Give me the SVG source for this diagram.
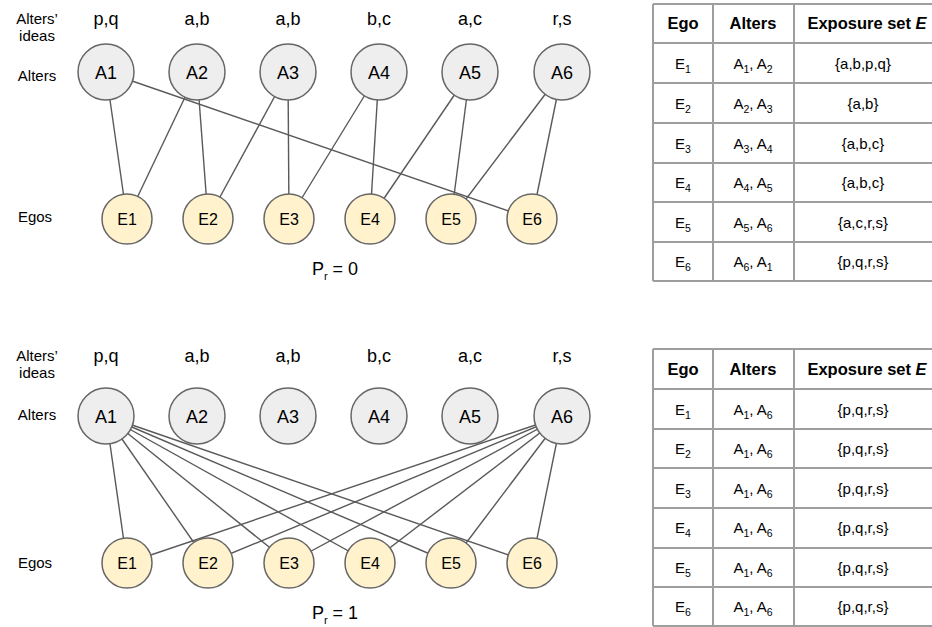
<svg xmlns="http://www.w3.org/2000/svg" width="932" height="627" viewBox="0 0 932 627">
<style>
text{font-family:"Liberation Sans",Arial,sans-serif;fill:#000}
.lbl{font-size:15px;text-anchor:middle}
.idea{font-size:18px;text-anchor:middle}
.nt{font-size:18px;text-anchor:middle}
.et{font-size:16px;text-anchor:middle}
.alt{fill:#eeeeee;stroke:#666666;stroke-width:1.5}
.ego{fill:#fff2cc;stroke:#666666;stroke-width:1.5}
.edge{stroke:#595959;stroke-width:1.4;fill:none}
.tl{stroke:#9e9e9e;stroke-width:2;fill:none}
.th{font-size:16.5px;font-weight:bold;text-anchor:middle}
.td{font-size:15px;text-anchor:middle}
.sb{font-size:10.5px}
.pr{font-size:18px;text-anchor:middle}
</style>

<!-- ===== Top diagram (Pr = 0) ===== -->
<g id="top-labels">
<text class="lbl" x="37" y="24">Alters’</text>
<text class="lbl" x="37" y="41">ideas</text>
<text class="lbl" x="37" y="81">Alters</text>
<text class="lbl" x="35" y="222">Egos</text>
<text class="idea" x="106" y="25">p,q</text>
<text class="idea" x="197" y="25">a,b</text>
<text class="idea" x="288" y="25">a,b</text>
<text class="idea" x="379" y="25">b,c</text>
<text class="idea" x="470" y="25">a,c</text>
<text class="idea" x="562" y="25">r,s</text>
<text class="pr" x="335" y="275">P<tspan dy="5" font-size="11">r</tspan><tspan dy="-5"> = 0</tspan></text>
</g>

<g id="top-connectors">
<line class="edge" x1="106" y1="72" x2="127" y2="219"/>
<line class="edge" x1="197" y1="72" x2="127" y2="219"/>
<line class="edge" x1="197" y1="72" x2="208" y2="219"/>
<line class="edge" x1="288" y1="72" x2="208" y2="219"/>
<line class="edge" x1="288" y1="72" x2="289" y2="219"/>
<line class="edge" x1="379" y1="72" x2="289" y2="219"/>
<line class="edge" x1="379" y1="72" x2="370" y2="219"/>
<line class="edge" x1="470" y1="72" x2="370" y2="219"/>
<line class="edge" x1="470" y1="72" x2="451" y2="219"/>
<line class="edge" x1="562" y1="72" x2="451" y2="219"/>
<line class="edge" x1="562" y1="72" x2="532" y2="219"/>
<line class="edge" x1="106" y1="72" x2="532" y2="219"/>
</g>

<g id="tA1"><circle class="alt" cx="106" cy="72" r="28"/><text class="nt" x="106" y="78.5">A1</text></g>
<g id="tA2"><circle class="alt" cx="197" cy="72" r="28"/><text class="nt" x="197" y="78.5">A2</text></g>
<g id="tA3"><circle class="alt" cx="288" cy="72" r="28"/><text class="nt" x="288" y="78.5">A3</text></g>
<g id="tA4"><circle class="alt" cx="379" cy="72" r="28"/><text class="nt" x="379" y="78.5">A4</text></g>
<g id="tA5"><circle class="alt" cx="470" cy="72" r="28"/><text class="nt" x="470" y="78.5">A5</text></g>
<g id="tA6"><circle class="alt" cx="562" cy="72" r="28"/><text class="nt" x="562" y="78.5">A6</text></g>
<g id="tE1"><circle class="ego" cx="127" cy="219" r="25"/><text class="et" x="127" y="225">E1</text></g>
<g id="tE2"><circle class="ego" cx="208" cy="219" r="25"/><text class="et" x="208" y="225">E2</text></g>
<g id="tE3"><circle class="ego" cx="289" cy="219" r="25"/><text class="et" x="289" y="225">E3</text></g>
<g id="tE4"><circle class="ego" cx="370" cy="219" r="25"/><text class="et" x="370" y="225">E4</text></g>
<g id="tE5"><circle class="ego" cx="451" cy="219" r="25"/><text class="et" x="451" y="225">E5</text></g>
<g id="tE6"><circle class="ego" cx="532" cy="219" r="25"/><text class="et" x="532" y="225">E6</text></g>

<!-- Top table -->
<g id="table-top">
<path class="tl" d="M653 4H933M653 43H933M653 83H933M653 123H933M653 163H933M653 202H933M653 242H933M653 281H933M653 4V281M713 4V281M794 4V281"/>
<text class="th" x="683" y="29">Ego</text>
<text class="th" x="753" y="29">Alters</text>
<text class="th" x="867" y="29">Exposure set <tspan font-style="italic">E</tspan></text>
<text class="td" x="683" y="68.5">E<tspan dy="4" class="sb">1</tspan></text>
<text class="td" x="753" y="68.5">A<tspan dy="4" class="sb">1</tspan><tspan dy="-4">, A</tspan><tspan dy="4" class="sb">2</tspan></text>
<text class="td" x="863" y="68.5">{a,b,p,q}</text>
<text class="td" x="683" y="108.5">E<tspan dy="4" class="sb">2</tspan></text>
<text class="td" x="753" y="108.5">A<tspan dy="4" class="sb">2</tspan><tspan dy="-4">, A</tspan><tspan dy="4" class="sb">3</tspan></text>
<text class="td" x="863" y="108.5">{a,b}</text>
<text class="td" x="683" y="148.5">E<tspan dy="4" class="sb">3</tspan></text>
<text class="td" x="753" y="148.5">A<tspan dy="4" class="sb">3</tspan><tspan dy="-4">, A</tspan><tspan dy="4" class="sb">4</tspan></text>
<text class="td" x="863" y="148.5">{a,b,c}</text>
<text class="td" x="683" y="188">E<tspan dy="4" class="sb">4</tspan></text>
<text class="td" x="753" y="188">A<tspan dy="4" class="sb">4</tspan><tspan dy="-4">, A</tspan><tspan dy="4" class="sb">5</tspan></text>
<text class="td" x="863" y="188">{a,b,c}</text>
<text class="td" x="683" y="227.5">E<tspan dy="4" class="sb">5</tspan></text>
<text class="td" x="753" y="227.5">A<tspan dy="4" class="sb">5</tspan><tspan dy="-4">, A</tspan><tspan dy="4" class="sb">6</tspan></text>
<text class="td" x="863" y="227.5">{a,c,r,s}</text>
<text class="td" x="683" y="267">E<tspan dy="4" class="sb">6</tspan></text>
<text class="td" x="753" y="267">A<tspan dy="4" class="sb">6</tspan><tspan dy="-4">, A</tspan><tspan dy="4" class="sb">1</tspan></text>
<text class="td" x="863" y="267">{p,q,r,s}</text>
</g>

<!-- ===== Bottom diagram (Pr = 1) ===== -->
<g id="bottom-labels">
<text class="lbl" x="37" y="361">Alters’</text>
<text class="lbl" x="37" y="378">ideas</text>
<text class="lbl" x="37" y="420">Alters</text>
<text class="lbl" x="35" y="568">Egos</text>
<text class="idea" x="106" y="362">p,q</text>
<text class="idea" x="197" y="362">a,b</text>
<text class="idea" x="288" y="362">a,b</text>
<text class="idea" x="379" y="362">b,c</text>
<text class="idea" x="470" y="362">a,c</text>
<text class="idea" x="562" y="362">r,s</text>
<text class="pr" x="335" y="619">P<tspan dy="5" font-size="11">r</tspan><tspan dy="-5"> = 1</tspan></text>
</g>

<g id="bottom-connectors">
<line class="edge" x1="106" y1="416" x2="127" y2="563"/>
<line class="edge" x1="106" y1="416" x2="208" y2="563"/>
<line class="edge" x1="106" y1="416" x2="289" y2="563"/>
<line class="edge" x1="106" y1="416" x2="370" y2="563"/>
<line class="edge" x1="106" y1="416" x2="451" y2="563"/>
<line class="edge" x1="106" y1="416" x2="532" y2="563"/>
<line class="edge" x1="562" y1="416" x2="127" y2="563"/>
<line class="edge" x1="562" y1="416" x2="208" y2="563"/>
<line class="edge" x1="562" y1="416" x2="289" y2="563"/>
<line class="edge" x1="562" y1="416" x2="370" y2="563"/>
<line class="edge" x1="562" y1="416" x2="451" y2="563"/>
<line class="edge" x1="562" y1="416" x2="532" y2="563"/>
</g>

<g id="bA1"><circle class="alt" cx="106" cy="416" r="28"/><text class="nt" x="106" y="422.5">A1</text></g>
<g id="bA2"><circle class="alt" cx="197" cy="416" r="28"/><text class="nt" x="197" y="422.5">A2</text></g>
<g id="bA3"><circle class="alt" cx="288" cy="416" r="28"/><text class="nt" x="288" y="422.5">A3</text></g>
<g id="bA4"><circle class="alt" cx="379" cy="416" r="28"/><text class="nt" x="379" y="422.5">A4</text></g>
<g id="bA5"><circle class="alt" cx="470" cy="416" r="28"/><text class="nt" x="470" y="422.5">A5</text></g>
<g id="bA6"><circle class="alt" cx="562" cy="416" r="28"/><text class="nt" x="562" y="422.5">A6</text></g>
<g id="bE1"><circle class="ego" cx="127" cy="563" r="25"/><text class="et" x="127" y="569">E1</text></g>
<g id="bE2"><circle class="ego" cx="208" cy="563" r="25"/><text class="et" x="208" y="569">E2</text></g>
<g id="bE3"><circle class="ego" cx="289" cy="563" r="25"/><text class="et" x="289" y="569">E3</text></g>
<g id="bE4"><circle class="ego" cx="370" cy="563" r="25"/><text class="et" x="370" y="569">E4</text></g>
<g id="bE5"><circle class="ego" cx="451" cy="563" r="25"/><text class="et" x="451" y="569">E5</text></g>
<g id="bE6"><circle class="ego" cx="532" cy="563" r="25"/><text class="et" x="532" y="569">E6</text></g>

<!-- Bottom table -->
<g id="table-bottom">
<path class="tl" d="M653 349H933M653 389H933M653 429H933M653 468H933M653 508H933M653 548H933M653 587H933M653 626H933M653 349V626M713 349V626M794 349V626"/>
<text class="th" x="683" y="375">Ego</text>
<text class="th" x="753" y="375">Alters</text>
<text class="th" x="867" y="375">Exposure set <tspan font-style="italic">E</tspan></text>
<text class="td" x="683" y="414.5">E<tspan dy="4" class="sb">1</tspan></text>
<text class="td" x="753" y="414.5">A<tspan dy="4" class="sb">1</tspan><tspan dy="-4">, A</tspan><tspan dy="4" class="sb">6</tspan></text>
<text class="td" x="863" y="414.5">{p,q,r,s}</text>
<text class="td" x="683" y="454">E<tspan dy="4" class="sb">2</tspan></text>
<text class="td" x="753" y="454">A<tspan dy="4" class="sb">1</tspan><tspan dy="-4">, A</tspan><tspan dy="4" class="sb">6</tspan></text>
<text class="td" x="863" y="454">{p,q,r,s}</text>
<text class="td" x="683" y="493.5">E<tspan dy="4" class="sb">3</tspan></text>
<text class="td" x="753" y="493.5">A<tspan dy="4" class="sb">1</tspan><tspan dy="-4">, A</tspan><tspan dy="4" class="sb">6</tspan></text>
<text class="td" x="863" y="493.5">{p,q,r,s}</text>
<text class="td" x="683" y="533">E<tspan dy="4" class="sb">4</tspan></text>
<text class="td" x="753" y="533">A<tspan dy="4" class="sb">1</tspan><tspan dy="-4">, A</tspan><tspan dy="4" class="sb">6</tspan></text>
<text class="td" x="863" y="533">{p,q,r,s}</text>
<text class="td" x="683" y="572.5">E<tspan dy="4" class="sb">5</tspan></text>
<text class="td" x="753" y="572.5">A<tspan dy="4" class="sb">1</tspan><tspan dy="-4">, A</tspan><tspan dy="4" class="sb">6</tspan></text>
<text class="td" x="863" y="572.5">{p,q,r,s}</text>
<text class="td" x="683" y="612">E<tspan dy="4" class="sb">6</tspan></text>
<text class="td" x="753" y="612">A<tspan dy="4" class="sb">1</tspan><tspan dy="-4">, A</tspan><tspan dy="4" class="sb">6</tspan></text>
<text class="td" x="863" y="612">{p,q,r,s}</text>
</g>
</svg>
